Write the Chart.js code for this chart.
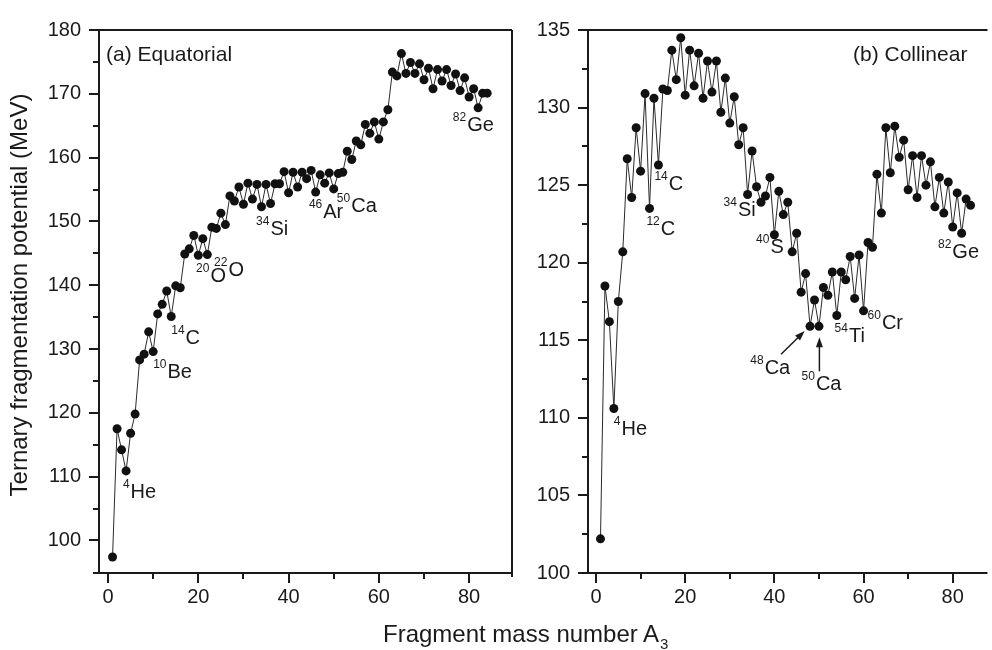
<!DOCTYPE html>
<html>
<head>
<meta charset="utf-8">
<title>Ternary fragmentation potential</title>
<script src="https://cdn.jsdelivr.net/npm/chart.js@4.4.0/dist/chart.umd.min.js"></script>
<style>
    body {
        margin: 0;
        width: 992px;
        height: 650px;
        overflow: hidden;
        position: relative;
        background: #fff;
        font-family: 'Liberation Sans', Arial, sans-serif;
    }
    #leftChart { position: absolute; left: 0; top: 0; }
    #rightChart { position: absolute; left: 525px; top: 0; }
    .x-title {
        position: absolute;
        left: 383px;
        top: 622px;
        font-size: 24px;
        line-height: 24px;
        color: #1a1a1a;
        white-space: nowrap;
    }
    .x-title sub { font-size: 15px; position: relative; top: 7px; vertical-align: baseline; margin-left: 1px; }
</style>
</head>
<body>
<canvas id="leftChart" width="525" height="650"></canvas>
<canvas id="rightChart" width="467" height="650"></canvas>
<div class="x-title">Fragment mass number A<sub>3</sub></div>

<script>
// Data
const massNumbers = [1, 2, 3, 4, 5, 6, 7, 8, 9, 10, 11, 12, 13, 14, 15, 16, 17, 18, 19, 20,
    21, 22, 23, 24, 25, 26, 27, 28, 29, 30, 31, 32, 33, 34, 35, 36, 37, 38, 39, 40,
    41, 42, 43, 44, 45, 46, 47, 48, 49, 50, 51, 52, 53, 54, 55, 56, 57, 58, 59, 60,
    61, 62, 63, 64, 65, 66, 67, 68, 69, 70, 71, 72, 73, 74, 75, 76, 77, 78, 79, 80,
    81, 82, 83, 84];

const equatorial = [97.4, 117.5, 114.2, 110.9, 116.8, 119.8, 128.3, 129.2, 132.7, 129.6,
    135.5, 137.0, 139.1, 135.1, 139.9, 139.6, 144.9, 145.7, 147.8, 144.7,
    147.3, 144.8, 149.1, 148.9, 151.3, 149.5, 154.0, 153.2, 155.4, 152.7,
    156.0, 153.5, 155.8, 152.3, 155.8, 152.8, 155.9, 155.9, 157.8, 154.5,
    157.7, 155.4, 157.7, 156.7, 158.0, 154.6, 157.3, 156.0, 157.6, 155.1,
    157.5, 157.7, 161.0, 159.7, 162.6, 162.0, 165.2, 163.8, 165.6, 162.9,
    165.6, 167.5, 173.4, 172.8, 176.3, 173.2, 174.9, 173.2, 174.7, 172.2,
    174.0, 170.8, 173.8, 172.0, 173.8, 171.3, 173.1, 170.5, 172.5, 169.5,
    170.8, 167.8, 170.1, 170.1];

const collinear = [102.2, 118.5, 116.2, 110.6, 117.5, 120.7, 126.7, 124.2, 128.7, 125.9,
    130.9, 123.5, 130.6, 126.3, 131.2, 131.1, 133.7, 131.8, 134.5, 130.8,
    133.7, 131.4, 133.5, 130.6, 133.0, 131.0, 133.0, 129.7, 131.9, 129.0,
    130.7, 127.6, 128.7, 124.4, 127.2, 124.9, 123.9, 124.3, 125.5, 121.8,
    124.6, 123.1, 123.9, 120.7, 121.9, 118.1, 119.3, 115.9, 117.6, 115.9,
    118.4, 117.9, 119.4, 116.6, 119.4, 118.9, 120.4, 117.7, 120.5, 116.9,
    121.3, 121.0, 125.7, 123.2, 128.7, 125.8, 128.8, 126.8, 127.9, 124.7,
    126.9, 124.2, 126.9, 125.0, 126.5, 123.6, 125.5, 123.2, 125.2, 122.3,
    124.5, 121.9, 124.1, 123.7];

// Tick values
const xMajorTicks = [0, 20, 40, 60, 80];
const xMinorTicks = [10, 30, 50, 70];
const leftYMajorTicks = [100, 110, 120, 130, 140, 150, 160, 170, 180];
const leftYMinorTicks = [105, 115, 125, 135, 145, 155, 165, 175];
const rightYMajorTicks = [100, 105, 110, 115, 120, 125, 130, 135];
const rightYMinorTicks = [102.5, 107.5, 112.5, 117.5, 122.5, 127.5, 132.5];

// Nucleus labels (anchor = left edge / baseline, in data units)
const leftNuclei = [
    { mass: '4', symbol: 'He', x: 3.3, y: 106.6 },
    { mass: '10', symbol: 'Be', x: 10.0, y: 125.5 },
    { mass: '14', symbol: 'C', x: 14.0, y: 130.8 },
    { mass: '20', symbol: 'O', x: 19.5, y: 140.5 },
    { mass: '22', symbol: 'O', x: 23.5, y: 141.5 },
    { mass: '34', symbol: 'Si', x: 32.8, y: 147.8 },
    { mass: '46', symbol: 'Ar', x: 44.5, y: 150.6 },
    { mass: '50', symbol: 'Ca', x: 50.7, y: 151.5 },
    { mass: '82', symbol: 'Ge', x: 76.4, y: 164.2 }
];
const rightNuclei = [
    { mass: '4', symbol: 'He', x: 4.0, y: 108.9 },
    { mass: '12', symbol: 'C', x: 11.3, y: 121.8 },
    { mass: '14', symbol: 'C', x: 13.1, y: 124.7 },
    { mass: '34', symbol: 'Si', x: 28.6, y: 123.0 },
    { mass: '40', symbol: 'S', x: 35.9, y: 120.6 },
    { mass: '48', symbol: 'Ca', x: 34.6, y: 112.8 },
    { mass: '50', symbol: 'Ca', x: 46.1, y: 111.8 },
    { mass: '54', symbol: 'Ti', x: 53.5, y: 114.9 },
    { mass: '60', symbol: 'Cr', x: 60.9, y: 115.7 },
    { mass: '82', symbol: 'Ge', x: 76.7, y: 120.3 }
];
const rightArrows = [
    { from: [41.5, 114.1], to: [46.8, 115.6] },
    { from: [50.1, 113.0], to: [50.1, 115.2] }
];

const FONT = "'Liberation Sans', Arial, sans-serif";
const INK = '#1a1a1a';

// Frame, tick marks, labels and arrows drawn through the chart scales
const panelDecor = {
    id: 'panelDecor',
    afterDraw(chart, args, opts) {
        const ctx = chart.ctx;
        const area = chart.chartArea;
        const xs = chart.scales.x;
        const ys = chart.scales.y;

        function line(x1, y1, x2, y2) {
            ctx.beginPath();
            ctx.moveTo(x1, y1);
            ctx.lineTo(x2, y2);
            ctx.stroke();
        }

        ctx.save();
        ctx.strokeStyle = INK;
        ctx.lineWidth = 2;

        // frame
        line(area.left - 6, area.bottom, area.right, area.bottom);
        line(area.left, area.bottom, area.left, area.top);
        line(area.left - 6, area.top, area.right, area.top);
        if (opts.rightFrame) {
            line(area.right, area.top, area.right, area.bottom + 4);
        }

        // ticks
        opts.xMajor.forEach(v => {
            const p = Math.round(xs.getPixelForValue(v));
            line(p, area.bottom, p, area.bottom + 10);
        });
        opts.xMinor.forEach(v => {
            const p = Math.round(xs.getPixelForValue(v));
            line(p, area.bottom, p, area.bottom + 6);
        });
        opts.yMajor.forEach(v => {
            const p = Math.round(ys.getPixelForValue(v));
            line(area.left - 10, p, area.left, p);
        });
        opts.yMinor.forEach(v => {
            const p = Math.round(ys.getPixelForValue(v));
            line(area.left - 6, p, area.left, p);
        });

        // nucleus labels
        ctx.fillStyle = INK;
        ctx.textAlign = 'left';
        ctx.textBaseline = 'alphabetic';
        opts.nuclei.forEach(n => {
            const x = xs.getPixelForValue(n.x);
            const y = ys.getPixelForValue(n.y);
            ctx.font = '12px ' + FONT;
            ctx.fillText(n.mass, x, y - 10);
            const w = ctx.measureText(n.mass).width;
            ctx.font = '20px ' + FONT;
            ctx.fillText(n.symbol, x + w + 1, y);
        });

        // arrows
        ctx.lineWidth = 1.5;
        (opts.arrows || []).forEach(a => {
            const x1 = xs.getPixelForValue(a.from[0]), y1 = ys.getPixelForValue(a.from[1]);
            const x2 = xs.getPixelForValue(a.to[0]), y2 = ys.getPixelForValue(a.to[1]);
            const ang = Math.atan2(y2 - y1, x2 - x1);
            line(x1, y1, x2 - 6 * Math.cos(ang), y2 - 6 * Math.sin(ang));
            ctx.beginPath();
            ctx.moveTo(x2, y2);
            ctx.lineTo(x2 - 10 * Math.cos(ang) + 3.5 * Math.sin(ang), y2 - 10 * Math.sin(ang) - 3.5 * Math.cos(ang));
            ctx.lineTo(x2 - 10 * Math.cos(ang) - 3.5 * Math.sin(ang), y2 - 10 * Math.sin(ang) + 3.5 * Math.cos(ang));
            ctx.closePath();
            ctx.fill();
        });

        // panel label
        ctx.font = '21px ' + FONT;
        ctx.fillText(opts.panelLabel, area.left + opts.panelX, area.top + 31);

        // y title (left panel only)
        if (opts.yTitle) {
            ctx.translate(20, 295);
            ctx.rotate(-Math.PI / 2);
            ctx.font = '24px ' + FONT;
            ctx.textAlign = 'center';
            ctx.textBaseline = 'middle';
            ctx.fillText(opts.yTitle, 0, 0);
        }
        ctx.restore();
    }
};

function makePanel(canvasId, values, cfg) {
    const ctx = document.getElementById(canvasId);
    return new Chart(ctx, {
        type: 'line',
        data: {
            datasets: [{
                data: massNumbers.map((a, i) => ({ x: a, y: values[i] })),
                borderColor: '#2a2a2a',
                borderWidth: 1,
                pointRadius: 4.5,
                pointBackgroundColor: '#111',
                pointBorderWidth: 0,
                tension: 0,
                fill: false
            }]
        },
        options: {
            responsive: false,
            animation: false,
            layout: { padding: cfg.padding },
            plugins: {
                legend: { display: false },
                tooltip: { enabled: false },
                panelDecor: cfg.decor
            },
            scales: {
                x: {
                    type: 'linear',
                    min: cfg.xMin,
                    max: cfg.xMax,
                    grid: { display: false, drawTicks: false },
                    border: { display: false },
                    afterBuildTicks: s => { s.ticks = xMajorTicks.map(v => ({ value: v })); },
                    afterFit: s => { s.height = 77; },
                    ticks: {
                        padding: 12,
                        color: INK,
                        maxRotation: 0,
                        autoSkip: false,
                        font: { size: 20, family: FONT }
                    }
                },
                y: {
                    type: 'linear',
                    min: cfg.yMin,
                    max: cfg.yMax,
                    grid: { display: false, drawTicks: false },
                    border: { display: false },
                    afterBuildTicks: s => { s.ticks = cfg.decor.yMajor.map(v => ({ value: v })); },
                    afterFit: s => { s.width = cfg.yWidth; },
                    ticks: {
                        padding: 18,
                        color: INK,
                        autoSkip: false,
                        font: { size: 20, family: FONT }
                    }
                }
            }
        },
        plugins: [panelDecor]
    });
}

// (a) Equatorial
makePanel('leftChart', equatorial, {
    padding: { top: 20, right: 13, bottom: 0, left: 0 },
    xMin: -2, xMax: 89.5,
    yMin: 94.9, yMax: 180,
    yWidth: 99,
    decor: {
        xMajor: xMajorTicks, xMinor: xMinorTicks,
        yMajor: leftYMajorTicks, yMinor: leftYMinorTicks,
        nuclei: leftNuclei,
        rightFrame: true,
        panelLabel: '(a) Equatorial', panelX: 7,
        yTitle: 'Ternary fragmentation potential (MeV)'
    }
});

// (b) Collinear
makePanel('rightChart', collinear, {
    padding: { top: 20, right: 0, bottom: 0, left: 0 },
    xMin: -1.8, xMax: 87.8,
    yMin: 100, yMax: 135,
    yWidth: 63,
    decor: {
        xMajor: xMajorTicks, xMinor: xMinorTicks,
        yMajor: rightYMajorTicks, yMinor: rightYMinorTicks,
        nuclei: rightNuclei,
        arrows: rightArrows,
        rightFrame: false,
        panelLabel: '(b) Collinear', panelX: 265
    }
});
</script>
</body>
</html>
